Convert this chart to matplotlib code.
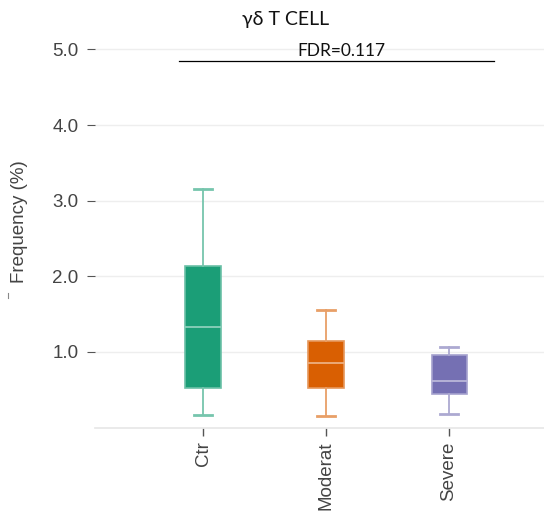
import matplotlib
matplotlib.use("Agg")
import matplotlib.pyplot as plt
from matplotlib.lines import Line2D
import matplotlib.colors as mc

categories = ["Ctr", "Moderat", "Severe"]
whisker_low = [0.165, 0.15, 0.18]
q1 = [0.52, 0.52, 0.44]
median = [1.33, 0.85, 0.615]
q3 = [2.14, 1.14, 0.96]
whisker_high = [3.15, 1.55, 1.06]
colors = ["#1b9e77", "#d95f02", "#7570b3"]
yticks = [1.0, 2.0, 3.0, 4.0, 5.0]
title = "γδ T CELL"
fdr_text = "FDR=0.117"
fdr_level = 4.85

plt.rcParams["font.family"] = ["Liberation Sans", "DejaVu Sans"]

fig = plt.figure(figsize=(5.44, 5.11), dpi=100)
ax = fig.add_axes([95/544, 1 - 427.5/511, 1 - 95/544, 400.7/511])

stats = []
for i, c in enumerate(categories):
    stats.append(dict(label=c, whislo=whisker_low[i], q1=q1[i], med=median[i],
                      q3=q3[i], whishi=whisker_high[i], fliers=[]))

bp = ax.bxp(stats, positions=range(len(categories)), widths=0.285,
            patch_artist=True, showfliers=False, manage_ticks=False)

def lighten(c, f):
    r, g, b = mc.to_rgb(c)
    return (r + (1 - r) * f, g + (1 - g) * f, b + (1 - b) * f)

for i, col in enumerate(colors):
    bp["boxes"][i].set_facecolor(col)
    bp["boxes"][i].set_edgecolor(lighten(col, 0.35))
    bp["boxes"][i].set_linewidth(1.2)
    bp["medians"][i].set_color(lighten(col, 0.5))
    bp["medians"][i].set_linewidth(1.3)
    for w in bp["whiskers"][2*i:2*i+2]:
        w.set_color(lighten(col, 0.4))
        w.set_linewidth(1.3)
    for cp in bp["caps"][2*i:2*i+2]:
        cp.set_color(lighten(col, 0.4))
        cp.set_linewidth(2.0)

ax.set_xlim(-0.878, 2.772)
ax.set_ylim(0, 5.3)
ax.set_yticks(yticks)
ax.set_yticklabels([f"{v:.1f}" for v in yticks], fontsize=13.5, color="#444444")
ax.set_xticks(range(len(categories)))
ax.set_xticklabels(categories, rotation=90, fontsize=13.5, color="#444444")
ax.tick_params(axis="y", length=6, width=0.8, color="#555555", pad=6)
ax.tick_params(axis="x", length=6, width=1.0, color="#555555", pad=4)
ax.grid(axis="y", color="#eeeeee", linewidth=1.0)
ax.set_axisbelow(True)
for s in ["top", "right", "left"]:
    ax.spines[s].set_visible(False)
ax.spines["bottom"].set_color("#e6e6e6")
ax.spines["bottom"].set_linewidth(1.2)

ax.set_ylabel("Frequency (%)", fontsize=13.5, color="#444444")
ax.yaxis.set_label_coords(-0.15, 0.515)

ax.plot([-0.195, 2.366], [fdr_level, fdr_level], color="black", linewidth=0.9,
        clip_on=False)
ax.text(1.126, fdr_level + 0.02, fdr_text, ha="center", va="bottom", fontsize=12.5,
        family=["Lato", "DejaVu Sans"], color="#111111")

fig.text(286/544, 1 - 20/511, title, ha="center", va="center", fontsize=14,
         family=["Lato", "DejaVu Sans"], color="#111111")

fig.add_artist(Line2D([8/544, 8/544], [1 - 298/511, 1 - 293/511],
                      color="#888888", linewidth=0.8))

fig.savefig("out.png", dpi=100, facecolor="white")
